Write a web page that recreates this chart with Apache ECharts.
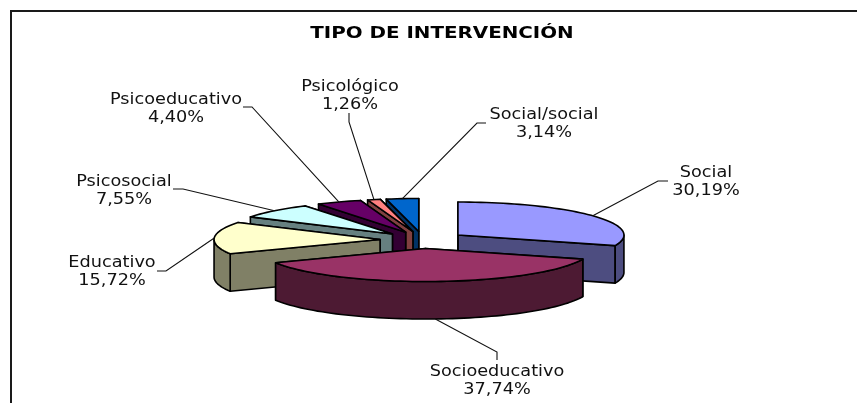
<!DOCTYPE html>
<html>
<head>
<meta charset="utf-8">
<title>Tipo de intervención</title>
<style>
    html, body { margin: 0; padding: 0; background: #fff; }
    #chart { width: 857px; height: 403px; }
</style>
<script src="https://cdn.jsdelivr.net/npm/echarts@6/dist/echarts.min.js"></script>
</head>
<body>
<div id="chart"></div>
<script>
const titleText = 'TIPO DE INTERVENCIÓN';
const categories = ['Social', 'Socioeducativo', 'Educativo', 'Psicosocial', 'Psicoeducativo', 'Psicológico', 'Social/social'];
const values = [30.19, 37.74, 15.72, 7.55, 4.40, 1.26, 3.14];

const topColors = ['#9999FF', '#993366', '#FFFFCC', '#CCFFFF', '#660066', '#FF8080', '#0066CC'];
const wallColors = ['#4D4D80', '#4D1A33', '#808066', '#668080', '#330033', '#804040', '#003366'];

// back to front, the pie has no depth sorting of its own
const drawOrder = [6, 5, 4, 3, 2, 0, 1];

// 3d look of the pie
const pie = { cx: 423, cy: 240, rx: 166, ry: 33, depth: 37.5, explode: 43 };

// label text centre and the elbow of its leader line
const labelLayout = [
    { x: 706, y: 182, elbow: [[658, 181], [668, 181]] },
    { x: 497, y: 381, elbow: [[497, 352], [497, 360]] },
    { x: 112, y: 272, elbow: [[166, 271], [157, 271]] },
    { x: 124, y: 191, elbow: [[183, 189], [173, 189]] },
    { x: 176, y: 109, elbow: [[252, 107], [243, 107]] },
    { x: 350, y: 96, elbow: [[349, 122], [349, 113]] },
    { x: 544, y: 124, elbow: [[477, 123], [486, 123]] }
];

const total = values.reduce((a, b) => a + b, 0);
const slices = [];
let acc = 0;
values.forEach((val) => {
    let start = acc / total * 360;
    acc += val;
    slices.push({ start: start, end: acc / total * 360 });
});

function rad(deg) {
    return deg * Math.PI / 180;
}

// deg is clockwise from 12 o'clock
function rimPoint(c, deg, drop) {
    return [c[0] + pie.rx * Math.sin(rad(deg)), c[1] - pie.ry * Math.cos(rad(deg)) + (drop || 0)];
}

function arcPoints(c, from, to, drop) {
    let pts = [];
    let n = Math.max(2, Math.ceil(Math.abs(to - from) / 2));
    for (let i = 0; i <= n; i++) {
        pts.push(rimPoint(c, from + (to - from) * i / n, drop));
    }
    return pts;
}

function sliceApex(s) {
    let mid = (s.start + s.end) / 2;
    return [
        pie.cx + pie.explode * Math.sin(rad(mid)),
        pie.cy - pie.explode * pie.ry / pie.rx * Math.cos(rad(mid))
    ];
}

function face(points, color) {
    return {
        type: 'polygon',
        shape: { points: points },
        style: { fill: color, stroke: '#000', lineWidth: 1.6, lineJoin: 'round' }
    };
}

function cutWall(c, deg, color) {
    let p = rimPoint(c, deg);
    return face([c, p, [p[0], p[1] + pie.depth], [c[0], c[1] + pie.depth]], color);
}

function renderSlice(params, api) {
    let idx = api.value(0);
    let s = slices[idx];
    let c = sliceApex(s);
    let children = [cutWall(c, s.end, wallColors[idx]), cutWall(c, s.start, wallColors[idx])];

    // only the part of the rim facing the viewer gets a wall
    let from = Math.max(s.start, 90), to = Math.min(s.end, 270);
    if (to > from) {
        let upper = arcPoints(c, from, to, 0);
        let lower = arcPoints(c, to, from, pie.depth);
        children.push(face(upper.concat(lower), wallColors[idx]));
    }
    children.push(face([c].concat(arcPoints(c, s.start, s.end, 0)), topColors[idx]));
    return { type: 'group', children: children };
}

function renderLabel(params, api) {
    let idx = api.value(0);
    let s = slices[idx];
    let mid = (s.start + s.end) / 2;
    let front = mid > 90 && mid < 270;
    let layout = labelLayout[idx];
    return {
        type: 'group',
        children: [
            {
                type: 'polyline',
                shape: { points: [rimPoint(sliceApex(s), mid, front ? pie.depth : 0)].concat(layout.elbow) },
                style: { fill: null, stroke: '#111', lineWidth: 1.1 }
            },
            {
                // the original text is stretched sideways
                type: 'text',
                x: layout.x,
                y: layout.y,
                scaleX: 1.18,
                style: {
                    text: categories[idx] + '\n' + values[idx].toFixed(2).replace('.', ',') + '%',
                    fill: '#111',
                    font: '15px "DejaVu Sans"',
                    lineHeight: 17.5,
                    align: 'center',
                    verticalAlign: 'middle'
                }
            }
        ]
    };
}

let chat = echarts.init(document.getElementById('chart'), null, { renderer: 'canvas' });
chat.setOption({
    animation: false,
    backgroundColor: '#fff',
    graphic: [
        { type: 'line', shape: { x1: 10, y1: 11, x2: 857, y2: 11 }, style: { stroke: '#1a1a1a', lineWidth: 2 } },
        { type: 'line', shape: { x1: 11, y1: 10, x2: 11, y2: 403 }, style: { stroke: '#1a1a1a', lineWidth: 2 } },
        {
            type: 'text',
            x: 442,
            y: 34,
            scaleX: 1.24,
            style: {
                text: titleText,
                fill: '#000',
                font: 'bold 16px "DejaVu Sans"',
                align: 'center',
                verticalAlign: 'middle'
            }
        }
    ],
    series: [
        {
            type: 'custom',
            coordinateSystem: 'none',
            silent: true,
            data: drawOrder.map((i) => [i]),
            renderItem: renderSlice
        },
        {
            type: 'custom',
            coordinateSystem: 'none',
            silent: true,
            data: categories.map((name, i) => [i]),
            renderItem: renderLabel
        }
    ]
});
</script>
</body>
</html>
